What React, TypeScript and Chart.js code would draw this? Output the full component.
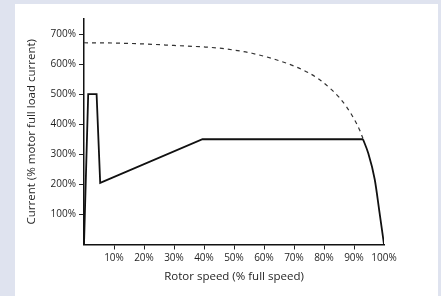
import React, { useEffect, useRef } from "react";
import { Chart, registerables } from "chart.js";

Chart.register(...registerables);

// Solid line: actual current limit profile (x = rotor speed %, y = current %)
const solidX = [0, 1.4, 4.2, 5.4, 39.5, 93];
const solidY = [0, 500, 500, 205, 350, 350];
// Solid tail curve near full speed
const tailX = [93, 94.7, 96.9, 98.5, 100];
const tailY = [350, 305, 217, 107, 0];
// Dashed line: direct-on-line current
const dashX = [0, 10, 20, 30, 40, 46, 56, 67.5, 74.7, 78.6, 82.5, 85, 87.5, 90, 92, 93];
const dashY = [671, 670, 667, 662, 657, 652, 636, 603, 572, 548, 515, 490, 458, 418, 378, 352];

const xTicks = [10, 20, 30, 40, 50, 60, 70, 80, 90, 100];
const yTicks = [100, 200, 300, 400, 500, 600, 700];

const xTitle = "Rotor speed (% full speed)";
const yTitle = "Current (% motor full load current)";

const FONT = "'Open Sans', 'DejaVu Sans', sans-serif";
const INK = "#1f1f1f";

export default function App() {
  const ref = useRef<HTMLCanvasElement | null>(null);
  useEffect(() => {
    if (!ref.current) return;
    const pts = (xs: number[], ys: number[]) => xs.map((x, i) => ({ x, y: ys[i] }));
    const chart = new Chart(ref.current, {
      type: "line",
      data: {
        datasets: [
          {
            data: pts(dashX, dashY),
            borderColor: "#333",
            borderWidth: 1.2,
            borderDash: [4, 4],
            pointRadius: 0,
            cubicInterpolationMode: "monotone",
            fill: false,
          },
          {
            data: pts(solidX, solidY),
            borderColor: "#111",
            borderWidth: 1.8,
            pointRadius: 0,
            tension: 0,
            fill: false,
          },
          {
            data: pts(tailX, tailY),
            borderColor: "#111",
            borderWidth: 1.8,
            pointRadius: 0,
            cubicInterpolationMode: "monotone",
            fill: false,
          },
        ],
      },
      options: {
        animation: false,
        responsive: false,
        maintainAspectRatio: false,
        layout: { padding: { top: 15, right: 54, left: 0, bottom: 12 } },
        plugins: { legend: { display: false }, tooltip: { enabled: false } },
        scales: {
          x: {
            type: "linear",
            min: 0,
            max: 100,
            afterBuildTicks: (s: any) => {
              s.ticks = xTicks.map((v) => ({ value: v }));
            },
            afterFit: (s: any) => {
              s.height = 39.5;
            },
            ticks: {
              callback: (v: any) => v + "%",
              color: INK,
              font: { family: FONT, size: 10 },
              padding: 3,
              maxRotation: 0,
              autoSkip: false,
            },
            grid: {
              drawOnChartArea: false,
              drawTicks: true,
              tickLength: 5,
              tickColor: (c: any) => (c.tick && c.tick.value === 100 ? "rgba(0,0,0,0)" : "#222"),
              tickWidth: 1,
            },
            border: { display: true, color: "#111", width: 1.5 },
            title: {
              display: true,
              text: xTitle,
              color: INK,
              font: { family: FONT, size: 11.5 },
              padding: { top: 2, bottom: 0 },
            },
          },
          y: {
            type: "linear",
            min: 0,
            max: 750,
            afterBuildTicks: (s: any) => {
              s.ticks = yTicks.map((v) => ({ value: v }));
            },
            afterFit: (s: any) => {
              s.width = 69;
            },
            ticks: {
              callback: (v: any) => v + "%",
              color: INK,
              font: { family: FONT, size: 10 },
              padding: 3,
            },
            grid: {
              drawOnChartArea: false,
              drawTicks: true,
              tickLength: 5,
              tickColor: "#222",
              tickWidth: 1,
            },
            border: { display: true, color: "#111", width: 1.5 },
            title: {
              display: true,
              text: yTitle,
              color: INK,
              font: { family: FONT, size: 11.5 },
              padding: { top: 10, bottom: 0 },
            },
          },
        },
      },
    } as any);
    return () => chart.destroy();
  }, []);

  return (
    <div style={{ position: "fixed", left: 0, top: 0, width: 441, height: 296, background: "#dfe3ef", overflow: "hidden" }}>
      <div style={{ position: "absolute", left: 15, top: 4, width: 423, height: 292, background: "#ffffff" }}>
        <canvas ref={ref} width={423} height={292} style={{ display: "block", width: 423, height: 292 }} />
      </div>
    </div>
  );
}
